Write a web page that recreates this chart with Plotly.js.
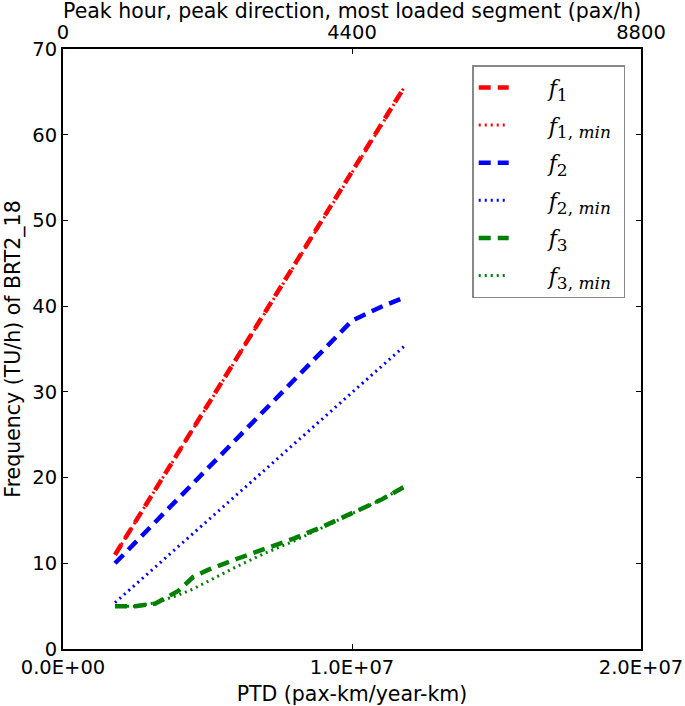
<!DOCTYPE html>
<html>
<head>
<meta charset="utf-8">
<script src="https://cdn.plot.ly/plotly-3.0.1.min.js"></script>
<style>html,body{margin:0;padding:0;background:#fff;}#chart{width:685px;height:706px;}</style>
</head>
<body>
<div id="chart"></div>
<script>
// PTD values (pax-km/year-km)
const ptd = [1.8e6, 2.5e6, 3.2e6, 4.0e6, 4.5e6, 5.0e6, 6.0e6, 7.0e6, 8.0e6, 9.0e6, 1.0e7, 1.1e7, 1.18e7];
const f1    = [11.0, 14.8, 18.6, 23.0, 25.7, 28.4, 33.8, 39.2, 44.7, 50.1, 55.5, 61.0, 65.5];
const f1min = [11.0, 14.8, 18.6, 23.0, 25.7, 28.4, 33.8, 39.2, 44.7, 50.1, 55.5, 61.0, 65.5];
const f2    = [10.0, 12.4, 14.8, 17.6, 19.3, 21.0, 24.5, 27.9, 31.4, 34.8, 38.3, 39.9, 41.0];
const f2min = [5.4, 7.5, 9.6, 12.0, 13.5, 15.0, 18.0, 21.0, 24.0, 26.9, 29.9, 32.9, 35.3];
const f3    = [5.0, 5.0, 5.3, 6.8, 8.4, 9.2, 10.5, 11.7, 12.9, 14.3, 15.9, 17.4, 18.9];
const f3min = [5.0, 5.0, 5.4, 6.3, 7.0, 7.9, 9.6, 11.2, 12.6, 14.2, 15.8, 17.4, 18.9];

const xTickVals = [0, 1e7, 2e7];
const xTickText = ['0.0E+00', '1.0E+07', '2.0E+07'];
const x2TickVals = [0, 4400, 8800];
const yTickVals = [0, 10, 20, 30, 40, 50, 60, 70];

const PRE = '&nbsp;&nbsp;&nbsp;&nbsp;&nbsp;';
const POST = '&nbsp;';
const SUB = s => '<sub><span style="font-size:17px">' + s + '</span></sub>';
const names = ['<i>f</i>' + SUB('1'), '<i>f</i>' + SUB('1, <i>min</i>'),
               '<i>f</i>' + SUB('2'), '<i>f</i>' + SUB('2, <i>min</i>'),
               '<i>f</i>' + SUB('3'), '<i>f</i>' + SUB('3, <i>min</i>')];
const series = [f1, f1min, f2, f2min, f3, f3min];
const colors = ['#ff0000', '#ff0000', '#0000ff', '#0000ff', '#008000', '#008000'];

const DASHED = '12px,7px';
const DOTTED = '2px,4px';

const traces = series.map((s, i) => ({
  x: ptd, y: s, type: 'scatter', mode: 'lines', name: PRE + names[i] + POST,
  legendgroup: 'g' + i,
  line: {color: colors[i], width: i % 2 === 0 ? 4.5 : 3, dash: i % 2 === 0 ? DASHED : DOTTED},
  xaxis: 'x', yaxis: 'y'
}));
// invisible trace to anchor top axis
traces.push({x: x2TickVals, y: [null, null, null], type: 'scatter', mode: 'lines',
  xaxis: 'x2', yaxis: 'y', showlegend: false, hoverinfo: 'skip'});

const tickFont = {family: 'DejaVu Sans, sans-serif', size: 19.5, color: '#000'};
const titleFont = {family: 'DejaVu Sans, sans-serif', size: 20.5, color: '#000'};

const layout = {
  width: 685, height: 706,
  margin: {l: 63, r: 44, t: 49, b: 57},
  paper_bgcolor: '#fff', plot_bgcolor: '#fff',
  font: tickFont,
  showlegend: true,
  legend: {
    x: 0.708, y: 0.973, xanchor: 'left', yanchor: 'top',
    bordercolor: '#888', borderwidth: 1.5, bgcolor: '#fff',
    font: {family: 'DejaVu Serif, serif', size: 22, color: '#000'},
    traceorder: 'grouped', tracegroupgap: 6, itemwidth: 30
  },
  xaxis: {
    range: [0, 2e7], tickvals: xTickVals, ticktext: xTickText,
    ticks: 'inside', ticklen: 5, tickwidth: 1, tickcolor: '#000',
    showline: true, linecolor: '#000', linewidth: 2, mirror: true,
    showgrid: false, zeroline: false,
    tickfont: tickFont,
    title: {text: 'PTD (pax-km/year-km)', font: titleFont, standoff: 8}
  },
  xaxis2: {
    overlaying: 'x', side: 'top', anchor: 'y',
    range: [0, 8800], tickvals: x2TickVals, ticktext: x2TickVals.map(String),
    ticks: 'inside', ticklen: 5, tickwidth: 1, tickcolor: '#000',
    ticklabelstandoff: 5,
    showline: false, showgrid: false, zeroline: false,
    tickfont: tickFont
  },
  yaxis: {
    range: [0, 70], tickvals: yTickVals,
    ticks: 'inside', ticklen: 5, tickwidth: 1, tickcolor: '#000',
    showline: true, linecolor: '#000', linewidth: 2, mirror: 'ticks',
    showgrid: false, zeroline: false,
    tickfont: tickFont,
    title: {text: 'Frequency (TU/h) of BRT2_18', font: titleFont, standoff: 6}
  },
  annotations: [{
    text: 'Peak hour, peak direction, most loaded segment (pax/h)',
    xref: 'paper', yref: 'paper', x: 0.5, y: 1.063, xanchor: 'center', yanchor: 'middle',
    showarrow: false, font: titleFont
  }]
};

Plotly.newPlot('chart', traces, layout, {displayModeBar: false, staticPlot: true});
</script>
</body>
</html>
